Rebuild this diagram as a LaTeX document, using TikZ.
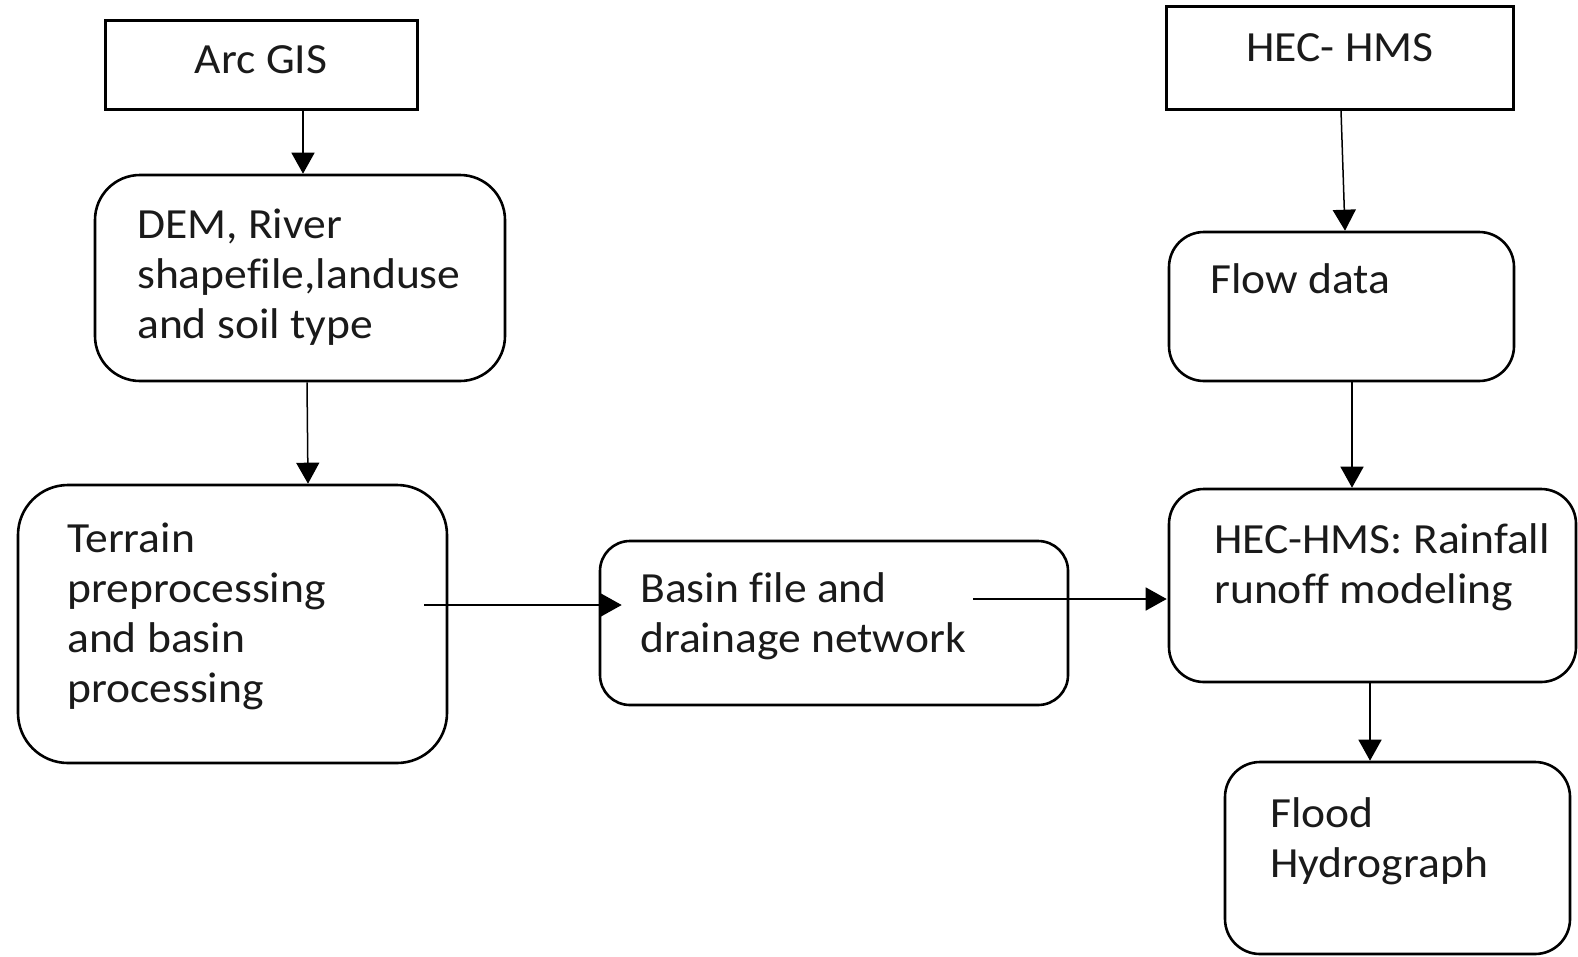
\documentclass[tikz,border=0pt]{standalone}
\usepackage{fontspec}
\setmainfont{Carlito}[FakeStretch=1.06, Ligatures={NoCommon}]
\usetikzlibrary{arrows.meta,calc}
\definecolor{txtcol}{HTML}{1A1A1A}
\tikzset{
  plainbox/.style={draw, line width=3pt, rectangle, inner sep=0pt},
  roundbox/.style={draw, line width=2.6pt, rectangle, inner sep=0pt},
  txt/.style={inner sep=0pt, anchor=base west, text=txtcol, font=\fontsize{43}{50}\selectfont},
  ctxt/.style={inner sep=0pt, anchor=base, text=txtcol, font=\fontsize{43}{50}\selectfont},
  conn/.style={line width=1.5pt, -{Triangle[length=21pt,width=23pt]}}
}
\newcommand{\lines}[1]{\begin{tabular}[t]{@{}l@{}}#1\end{tabular}}
\begin{document}
\begin{tikzpicture}[x=1pt,y=-1pt]
\useasboundingbox (0,0) rectangle (1578,956);
% boxes
\node[plainbox, minimum width=312pt, minimum height=89pt] (arc) at (261,64.5) {};
\node[plainbox, minimum width=347pt, minimum height=103pt] (hec) at (1339.5,57.5) {};
\node[roundbox, rounded corners=45pt, minimum width=410pt, minimum height=206pt] (dem) at (300,278) {};
\node[roundbox, rounded corners=35pt, minimum width=345pt, minimum height=149pt] (flow) at (1341.5,306.5) {};
\node[roundbox, rounded corners=50pt, minimum width=429pt, minimum height=278pt] (terrain) at (232.5,624) {};
\node[roundbox, rounded corners=30pt, minimum width=468pt, minimum height=164pt] (basin) at (834,623) {};
\node[roundbox, rounded corners=35pt, minimum width=407pt, minimum height=193pt] (hms) at (1372.5,585.5) {};
\node[roundbox, rounded corners=35pt, minimum width=345pt, minimum height=192pt] (flood) at (1397.5,858) {};
% texts
\node[ctxt] (arct) at (261,73) {Arc GIS};
\node[ctxt] (hect) at (1340,61) {HEC- HMS};
\node[txt] (demt) at (137,238) {\lines{DEM, River\\shapefile,landuse\\and soil type}};
\node[txt] (flowt) at (1210,293) {Flow data};
\node[txt] (terraint) at (67,552) {\lines{Terrain\\preprocessing\\and basin\\processing}};
\node[txt] (basint) at (640,602) {\lines{Basin file and\\drainage network}};
\node[txt] (hmst) at (1214,553) {\lines{HEC-HMS: Rainfall\\runoff modeling}};
\node[txt] (floodt) at (1270,827) {\lines{Flood\\Hydrograph}};
% connectors
\draw[conn] ($(arc.south)+(42,0)$) -- ($(dem.north)+(3,0)$);
\draw[conn] ($(dem.south)+(7,0)$) -- ($(terrain.north)+(75.5,0)$);
\draw[conn] ($(hec.south)+(1.5,0)$) -- ($(flow.north)+(3.5,0)$);
\draw[conn] ($(flow.south)+(10.5,0)$) -- ($(hms.north)+(-20.5,0)$);
\draw[conn] ($(terrain.east)+(-24,-19)$) -- ($(basin.west)+(23,-18)$);
\draw[conn] ($(basin.east)+(-96,-24)$) -- ($(hms.west)+(-1,13.5)$);
\draw[conn] ($(hms.south)+(-2.5,0)$) -- ($(flood.north)+(-27.5,0)$);
\end{tikzpicture}
\end{document}
